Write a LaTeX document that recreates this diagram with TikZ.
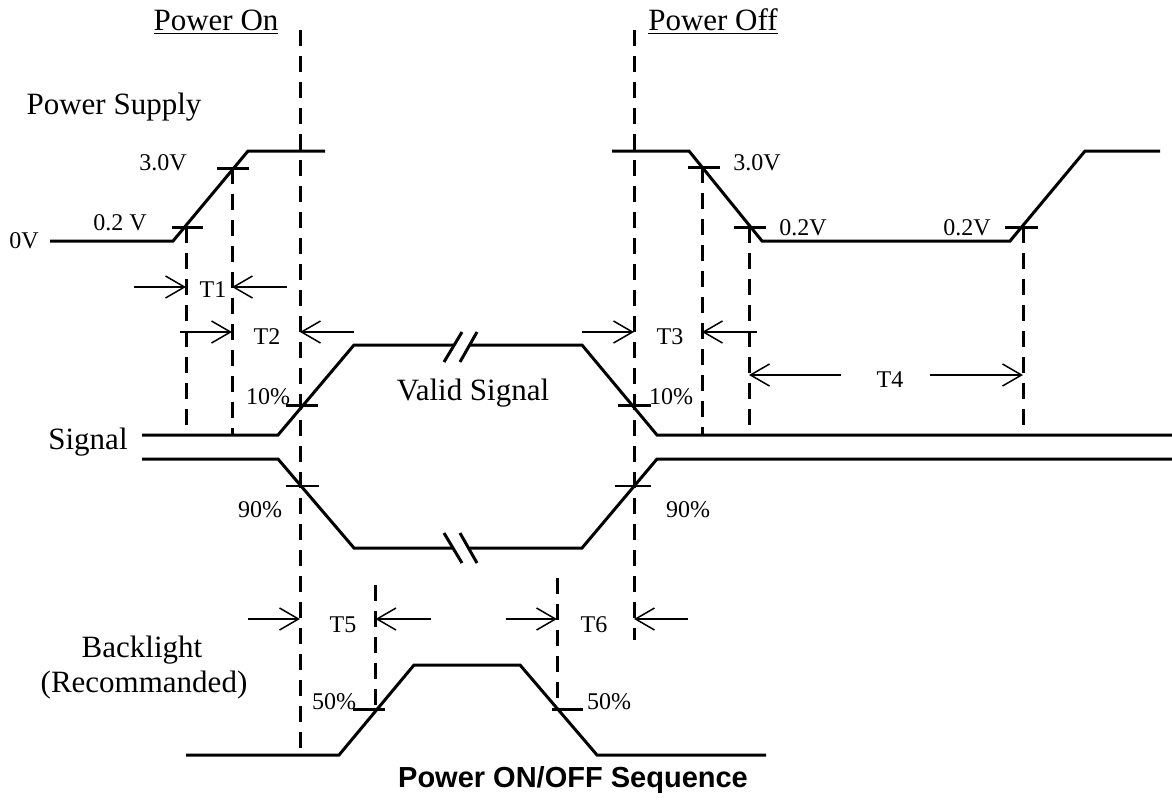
\documentclass[tikz,border=0pt]{standalone}
\usepackage{fontspec}
\setmainfont{Liberation Serif}
\newfontfamily\titlefont{Liberation Sans}
\usetikzlibrary{arrows.meta}

\begin{document}
\begin{tikzpicture}[x=0.5pt, y=-0.5pt,
    wave/.style={line width=1.5pt, line join=miter},
    guide/.style={line width=1.5pt, dash pattern=on 8pt off 5pt},
    tick/.style={line width=1.5pt},
    thintick/.style={line width=0.8pt},
    dim/.style={line width=0.75pt, -{Straight Barb[length=9.5pt,width=11pt]}},
    big/.style={font=\fontsize{15.5}{18}\selectfont, inner sep=0pt},
    small/.style={font=\fontsize{12}{14}\selectfont, inner sep=0pt}]
  \useasboundingbox (0,0) rectangle (1172,799);

  % dashed time marks
  \foreach \x/\ya/\yb in {186/227/435, 232/168/435, 300/30/748, 375.5/585/709,
                          557/578/709, 634/30/640, 702/167/435, 749/227/435, 1023/227/435}
    \draw[guide] (\x,\ya) -- (\x,\yb);

  % power supply
  \draw[wave] (50,241) -- (173,241) -- (248,151) -- (325,151);
  \draw[wave] (612,151) -- (689,151) -- (762,241) -- (1010,241) -- (1085,151) -- (1160,151);
  \foreach \xa/\xb/\y in {172/203/227, 217/249/168, 688/720/167, 734/766/227, 1005/1038/227}
    \draw[tick] (\xa,\y) -- (\xb,\y);

  % signal
  \draw[wave] (142,435) -- (278,435) -- (354,345) -- (453,345);
  \draw[wave] (469,345) -- (582,345) -- (657,435) -- (1172,435);
  \draw[wave] (142,459) -- (278,459) -- (354,548) -- (453,548);
  \draw[wave] (469,548) -- (582,548) -- (657,459) -- (1172,459);
  \draw[tick] (444,362) -- (462,332) (460,362) -- (477,332);
  \draw[tick] (444,533) -- (462,563) (460,533) -- (477,563);
  \draw[tick] (286,405) -- (318,405) (618,405) -- (651,405);
  \draw[thintick] (286,486) -- (319,486) (615,486) -- (651,486);

  % backlight
  \draw[wave] (186,755) -- (339,755) -- (414,665) -- (520,665) -- (597,755) -- (766,755);
  \draw[tick] (353,709) -- (385,709) (552,709) -- (583,709);

  % timing arrows
  \foreach \xa/\xb/\y in {134/186/287, 287/232/287, 180/232/332, 354/300/332,
                          582/634/332, 757/702/332, 841/749/375, 930/1023/375,
                          248/300/619, 431/375.5/619, 506/557/619, 688/634/619}
    \draw[dim] (\xa,\y) -- (\xb,\y);

  % labels
  \node[big] (on) at (216,22) {\underline{Power On}};
  \node[big] (off) at (713,22) {\underline{Power Off}};
  \node[big] (supply) at (114,107) {Power Supply};
  \node[big] (sig) at (88,442) {Signal};
  \node[big] (valid) at (473,393) {Valid Signal};
  \node[big] (bl) at (142,650) {Backlight};
  \node[big] (blrec) at (144,685) {(Recommanded)};
  \node[small] (v3on) at (163,163) {3.0V};
  \node[small] (v02on) at (120,223) {0.2 V};
  \node[small] (v0) at (24,241) {0V};
  \node[small] (v3off) at (757,163) {3.0V};
  \node[small] (v02off) at (803,228) {0.2V};
  \node[small] (v02up) at (967,228) {0.2V};
  \node[small] (t1) at (213,290) {T1};
  \node[small] (t2) at (267,337) {T2};
  \node[small] (t3) at (670,337) {T3};
  \node[small] (t4) at (890,380) {T4};
  \node[small] (t5) at (343,625) {T5};
  \node[small] (t6) at (594,625) {T6};
  \node[small] (p10a) at (268,397) {10\%};
  \node[small] (p10b) at (671,397) {10\%};
  \node[small] (p90a) at (260,510) {90\%};
  \node[small] (p90b) at (688,510) {90\%};
  \node[small] (p50a) at (334,702) {50\%};
  \node[small] (p50b) at (609,702) {50\%};
  \node[inner sep=0pt, font=\titlefont\bfseries\fontsize{14.5}{17}\selectfont] (title) at (573,780) {Power ON/OFF Sequence};
\end{tikzpicture}
\end{document}
